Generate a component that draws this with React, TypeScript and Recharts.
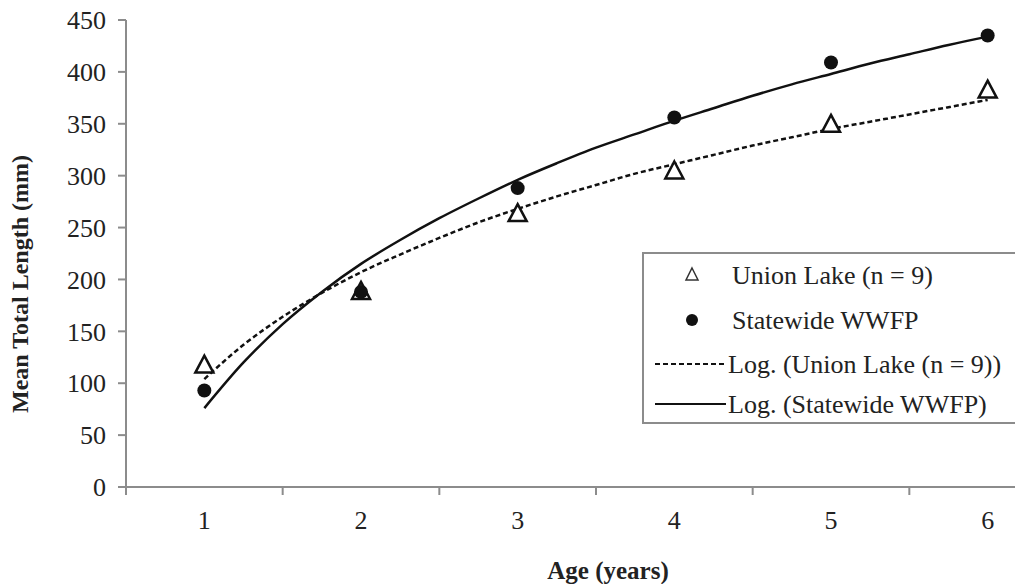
import React from 'react';
import { ComposedChart, Line, Scatter, XAxis, YAxis } from 'recharts';

// mean total length (mm) by age
const ages = [1, 2, 3, 4, 5, 6];
const unionLake = [117, 188, 263, 304, 349, 382];
const statewide = [93, 188, 288, 356, 409, 435];

// logarithmic trendlines, every quarter year
const trendAges = [1, 1.25, 1.5, 1.75, 2, 2.25, 2.5, 2.75, 3, 3.25, 3.5, 3.75, 4, 4.25, 4.5, 4.75, 5, 5.25, 5.5, 5.75, 6];
const unionLog = [104, 137, 164, 187, 207, 224, 240, 255, 268, 280, 291, 302, 311, 320, 329, 337, 345, 352, 359, 366, 373];
const statewideLog = [76, 120, 157, 188, 215, 238, 259, 278, 296, 312, 327, 340, 353, 365, 377, 388, 398, 408, 417, 426, 434];

const xTicks = [0.5, 1, 1.5, 2, 2.5, 3, 3.5, 4, 4.5, 5, 5.5, 6, 6.5];
const yTicks = [0, 50, 100, 150, 200, 250, 300, 350, 400, 450];

const legendLabels = ['Union Lake (n = 9)', 'Statewide WWFP', 'Log. (Union Lake (n = 9))', 'Log. (Statewide WWFP)'];

const unionPts = ages.map((x, i) => ({ x, y: unionLake[i] }));
const statePts = ages.map((x, i) => ({ x, y: statewide[i] }));
const unionTrend = trendAges.map((x, i) => ({ x, y: unionLog[i] }));
const stateTrend = trendAges.map((x, i) => ({ x, y: statewideLog[i] }));

const FONT = '"Liberation Serif", "Times New Roman", serif';
const AXIS = '#8c8c8c';

const Triangle = (props: any) => {
  const { cx, cy } = props;
  if (cx == null || cy == null) return null;
  return (
    <path
      d={`M${cx},${cy - 10} L${cx + 9},${cy + 7} L${cx - 9},${cy + 7} Z`}
      fill="#fff"
      stroke="#111"
      strokeWidth={2.5}
    />
  );
};

const Dot = (props: any) => {
  const { cx, cy } = props;
  if (cx == null || cy == null) return null;
  return <circle cx={cx} cy={cy} r={7} fill="#111" />;
};

const AgeTick = (props: any) => {
  const { x, y, payload } = props;
  const v = payload.value;
  if (Number.isInteger(v)) {
    return (
      <text x={x} y={y + 33} textAnchor="middle" dominantBaseline="central" fontSize={26} fill="#222" fontFamily={FONT}>
        {v}
      </text>
    );
  }
  return <line x1={x} y1={y} x2={x} y2={y + 8} stroke={AXIS} strokeWidth={2} />;
};

const Legend = () => (
  <svg width={420} height={200} style={{ position: 'absolute', left: 630, top: 240 }}>
    <g fontFamily={FONT} fontSize={26} fill="#222">
      <rect x={13} y={13} width={420} height={170} fill="#fff" stroke={AXIS} strokeWidth={2} />
      <path d="M62,28 L68,40 L56,40 Z" fill="#fff" stroke="#333" strokeWidth={1.5} />
      <text x={102} y={35} dominantBaseline="central">{legendLabels[0]}</text>
      <circle cx={62} cy={80} r={6} fill="#111" />
      <text x={102} y={80} dominantBaseline="central">{legendLabels[1]}</text>
      <line x1={25} y1={124} x2={96} y2={124} stroke="#111" strokeWidth={2} strokeDasharray="5 3" />
      <text x={98} y={124} dominantBaseline="central">{legendLabels[2]}</text>
      <line x1={25} y1={164} x2={96} y2={164} stroke="#111" strokeWidth={2} />
      <text x={98} y={164} dominantBaseline="central">{legendLabels[3]}</text>
    </g>
  </svg>
);

export default function App() {
  return (
    <div style={{ position: 'absolute', left: 0, top: 0, width: 1015, height: 584, overflow: 'hidden', background: '#fff' }}>
      <ComposedChart width={1080} height={584} margin={{ top: 20, right: 14, left: 0, bottom: 37 }}>
        <XAxis
          dataKey="x"
          type="number"
          domain={[0.5, 6.5]}
          ticks={xTicks}
          interval={0}
          tick={<AgeTick />}
          tickLine={false}
          tickSize={0}
          tickMargin={0}
          height={60}
          stroke={AXIS}
          strokeWidth={2}
          allowDuplicatedCategory={false}
          label={{
            content: () => (
              <text x={608} y={570} textAnchor="middle" dominantBaseline="central" fontSize={25} fontWeight="bold" fill="#222" fontFamily={FONT}>
                Age (years)
              </text>
            ),
          }}
        />
        <YAxis
          dataKey="y"
          type="number"
          domain={[0, 450]}
          ticks={yTicks}
          interval={0}
          width={126}
          tickSize={8}
          tickMargin={12}
          stroke={AXIS}
          strokeWidth={2}
          tick={{ fontSize: 26, fill: '#222', fontFamily: FONT }}
          label={{
            content: () => (
              <text x={20} y={284} transform="rotate(-90 20 284)" textAnchor="middle" dominantBaseline="central" fontSize={24} fontWeight="bold" fill="#222" fontFamily={FONT}>
                Mean Total Length (mm)
              </text>
            ),
          }}
        />
        <Line data={unionTrend} dataKey="y" type="monotone" stroke="#111" strokeWidth={2.5} strokeDasharray="5 3" dot={false} activeDot={false} isAnimationActive={false} />
        <Line data={stateTrend} dataKey="y" type="monotone" stroke="#111" strokeWidth={2.5} dot={false} activeDot={false} isAnimationActive={false} />
        <Scatter data={unionPts} dataKey="y" shape={<Triangle />} isAnimationActive={false} />
        <Scatter data={statePts} dataKey="y" shape={<Dot />} isAnimationActive={false} />
      </ComposedChart>
      <Legend />
    </div>
  );
}
